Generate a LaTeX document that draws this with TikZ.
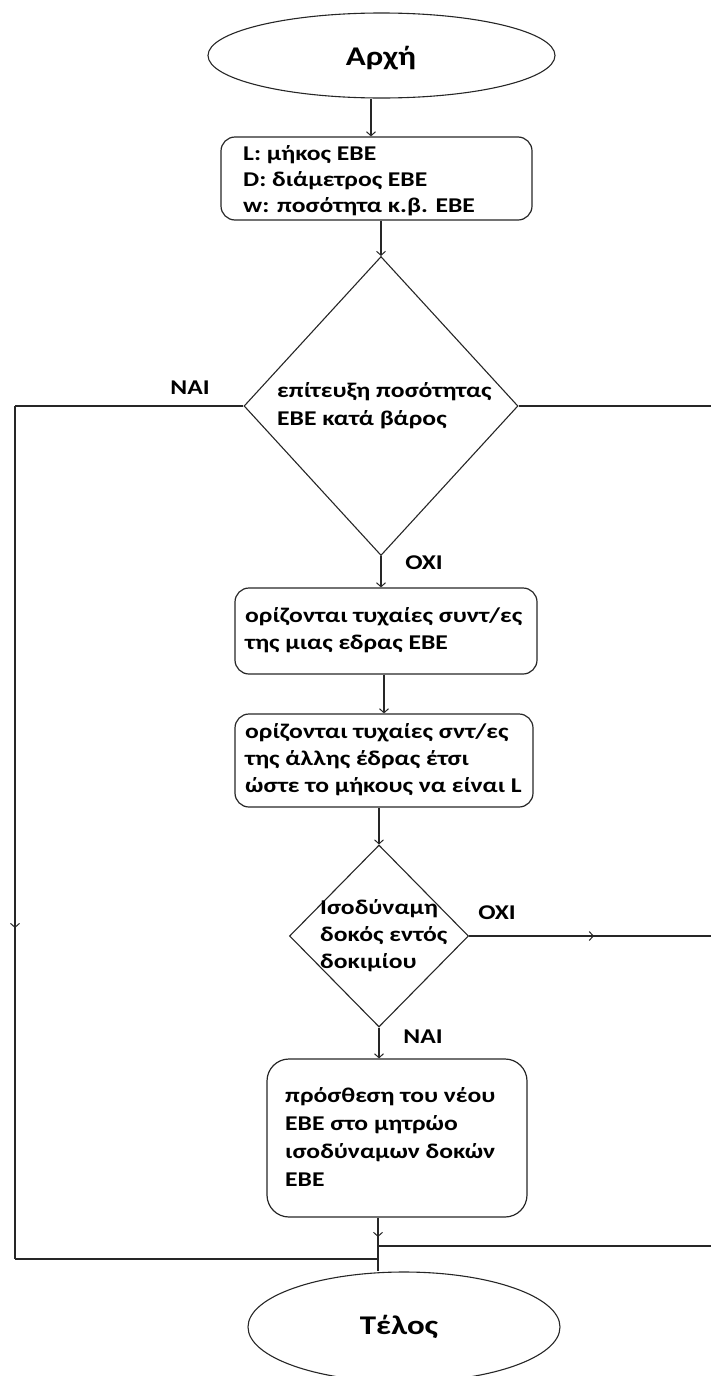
\documentclass[tikz,border=0pt]{standalone}
\usepackage{fontspec}
\setmainfont{Carlito}[FakeStretch=1.22]
\usetikzlibrary{shapes.geometric,arrows.meta,decorations.markings}
\begin{document}
\begin{tikzpicture}[x=1pt,y=-1pt,
  ln/.style={draw=black!85, line width=1.2pt},
  tip/.style={-{Straight Barb[length=4pt,width=9pt,line width=1pt]}},
  midarr/.style={postaction={decorate}, decoration={markings,
      mark=at position #1 with {\arrow{Straight Barb[length=4pt,width=9pt,line width=1pt]}}}},
  procbox/.style={draw=black!85, line width=1.2pt, rounded corners=14pt, inner sep=0pt},
  termin/.style={draw=black!85, line width=1.1pt, ellipse, inner sep=0pt},
  decis/.style={draw=black!85, line width=1.1pt, diamond, inner sep=0pt},
  txt/.style={font=\bfseries\fontsize{21}{27}\selectfont, align=left, inner sep=0pt, anchor=west},
  lbl/.style={font=\bfseries\fontsize{21}{24}\selectfont, inner sep=0pt},
  big/.style={font=\bfseries\fontsize{27}{32}\selectfont, inner sep=0pt}
]
\useasboundingbox (0,0) rectangle (711,1376);

% terminals
\node[termin, minimum width=347pt, minimum height=85pt] (start) at (381.5,55.5) {};
\node[big] (starttxt) at (381,58) {Αρχή};
\node[termin, minimum width=312pt, minimum height=110pt] (end) at (404,1327) {};
\node[big] (endtxt) at (399,1327) {Τέλος};

% boxes
\node[procbox, minimum width=311pt, minimum height=83pt] (b1) at (376.5,178.5) {};
\node[txt, font=\bfseries\fontsize{21}{26}\selectfont] (t1) at (243,181) {L: μήκος ΕΒΕ\\D: διάμετρος ΕΒΕ\\w: ποσότητα κ.β. ΕΒΕ};

\node[procbox, minimum width=302pt, minimum height=86pt] (b2) at (386,631) {};
\node[txt] (t2) at (245,630) {ορίζονται τυχαίες συντ/ες\\της μιας εδρας ΕΒΕ};

\node[procbox, minimum width=298pt, minimum height=93pt] (b3) at (384,760.5) {};
\node[txt] (t3) at (245,760) {ορίζονται τυχαίες σντ/ες\\της άλλης έδρας έτσι\\ώστε το μήκους να είναι L};

\node[procbox, rounded corners=22pt, minimum width=260pt, minimum height=158pt] (b4) at (397,1138) {};
\node[txt, font=\bfseries\fontsize{21}{28}\selectfont] (t4) at (285,1137) {πρόσθεση του νέου\\ΕΒΕ στο μητρώο\\ισοδύναμων δοκών\\ΕΒΕ};

% decisions
\node[decis, minimum width=274pt, minimum height=299pt] (d1) at (381,406) {};
\node[txt, font=\bfseries\fontsize{21}{28}\selectfont] (dt1) at (277,406) {επίτευξη ποσότητας\\ΕΒΕ κατά βάρος};

\node[decis, minimum width=179pt, minimum height=182pt] (d2) at (379,936) {};
\node[txt] (dt2) at (320,936) {Ισοδύναμη\\δοκός εντός\\δοκιμίου};

% labels
\node[lbl] (nai1) at (190,388) {ΝΑΙ};
\node[lbl] (oxi1) at (424,563) {ΟΧΙ};
\node[lbl] (oxi2) at (497,913) {ΟΧΙ};
\node[lbl] (nai2) at (423,1037) {ΝΑΙ};

% helper coordinates
\coordinate (lc1) at (15,406);
\coordinate (lc2) at (15,1259);
\coordinate (jl) at (378,1259);
\coordinate (jr) at (378,1246);
\coordinate (re1) at (711,406);
\coordinate (re2) at (711,936);
\coordinate (re3) at (711,1246);

% connectors
\draw[ln,tip] (start.south -| 371,0) -- (b1.north -| 371,0);
\draw[ln,tip] (b1.south -| d1.north) -- (d1.north);
\draw[ln,tip] (d1.south) -- (b2.north -| d1.south);
\draw[ln,tip] (b2.south -| 384,0) -- (b3.north -| 384,0);
\draw[ln,tip] (b3.south -| d2.north) -- (d2.north);
\draw[ln,tip] (d2.south) -- (b4.north -| d2.south);
\draw[ln] (d1.west) -- (lc1);
\draw[ln,midarr=0.612] (lc1) -- (lc2);
\draw[ln] (lc2) -- (jl);
\draw[ln] (d1.east) -- (re1);
\draw[ln,midarr=0.516] (d2.east) -- (re2);
\draw[ln,midarr=0.36] (b4.south -| jl) -- (end.north -| jl);
\draw[ln] (jr) -- (re3);
\end{tikzpicture}
\end{document}
